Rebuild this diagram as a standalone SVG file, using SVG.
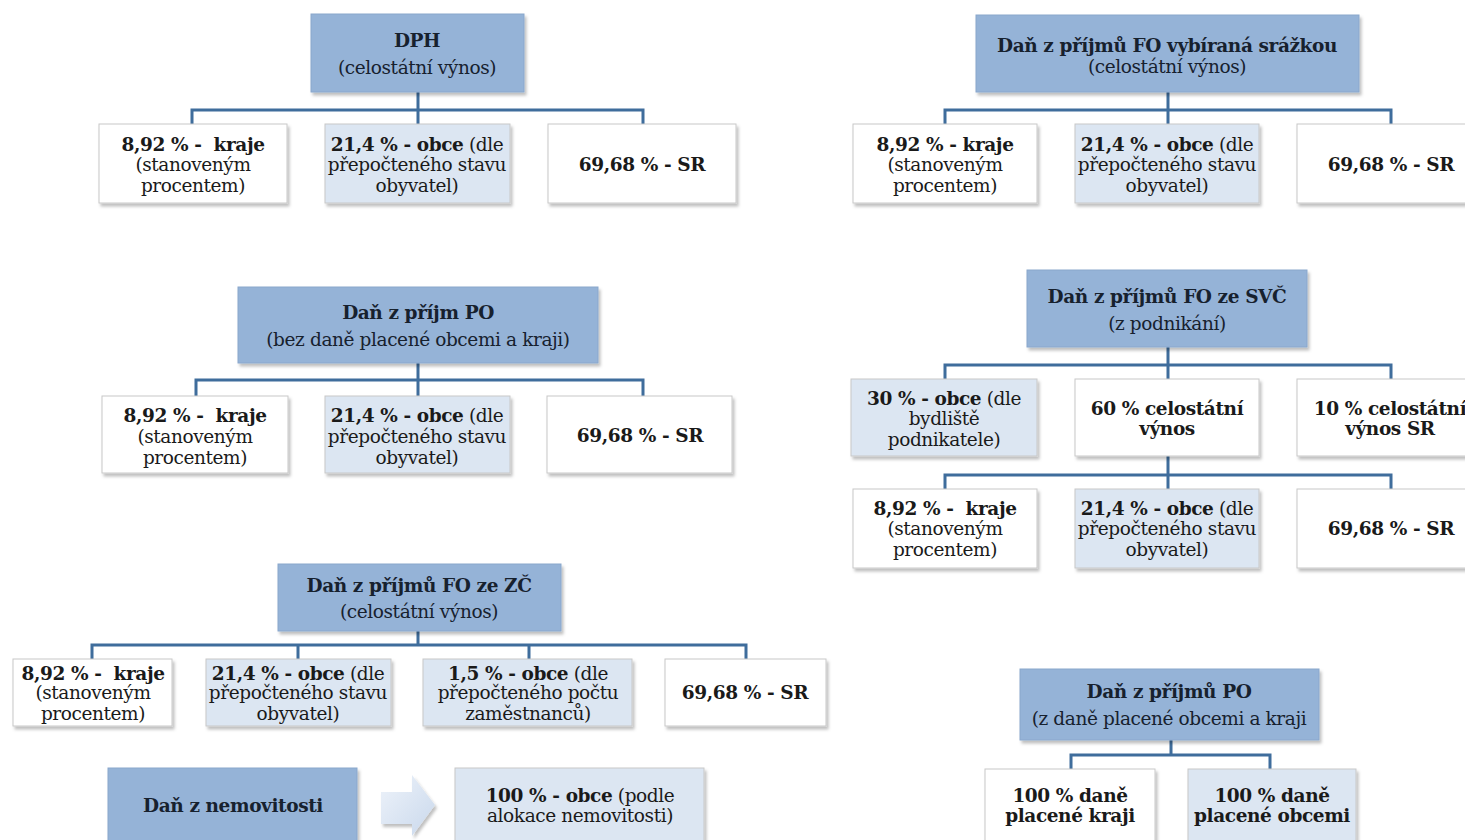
<svg xmlns="http://www.w3.org/2000/svg" width="1465" height="840" viewBox="0 0 1465 840">
<defs>
<filter id="sh" x="-10%" y="-10%" width="130%" height="140%">
<feDropShadow dx="2" dy="3" stdDeviation="1.5" flood-color="#000" flood-opacity="0.25"/>
</filter>
<linearGradient id="ag" x1="0" y1="0" x2="1" y2="1">
<stop offset="0" stop-color="#eef3fa"/>
<stop offset="1" stop-color="#c9d8ec"/>
</linearGradient>
</defs>
<style>
.hdr{fill:#95b3d7;stroke:#8aa7cc;stroke-width:1;filter:url(#sh)}
.w{fill:#ffffff;stroke:#c8c8c8;stroke-width:1;filter:url(#sh)}
.lb{fill:#dce6f2;stroke:#c8c8c8;stroke-width:1;filter:url(#sh)}
.c{fill:none;stroke:#3f6d9c;stroke-width:3}
text{font-family:"DejaVu Serif","Liberation Serif",serif;font-size:18.5px;fill:#1a1a1a;text-anchor:middle;dominant-baseline:central;letter-spacing:-0.4px}
.b{font-weight:bold}
.h{fill:#17212e}
</style>
<rect width="1465" height="840" fill="#ffffff"/>
<g id="connectors">
<path class="c" d="M418 92V110M192 124V110H643V124M418 110V124"/>
<path class="c" d="M1168 92V110M945 124V110H1391V124M1168 110V124"/>
<path class="c" d="M418 363V380M196 396V380H643V396M418 380V396"/>
<path class="c" d="M1168 347V365M945 379V365H1391V379M1168 365V379"/>
<path class="c" d="M1168 456V475M945 489V475H1391V489M1168 475V489"/>
<path class="c" d="M418 631V645M92 659V645H746V659M298 645V659M529 645V659"/>
<path class="c" d="M1171 740V755M1071 769V755H1270V769"/>
</g>
<g id="dph">
<rect class="hdr" x="311" y="14" width="213" height="78"/>
<text class="b h" x="417" y="40">DPH</text>
<text class="h" x="417" y="67">(celostátní výnos)</text>
</g>
<g id="dph-kraje">
<rect class="w" x="99" y="124" width="188" height="79"/>
<text x="193" y="144" class="b" xml:space="preserve">8,92 % -  kraje</text>
<text x="193" y="164">(stanoveným</text>
<text x="193" y="185">procentem)</text>
</g>
<g id="dph-obce">
<rect class="lb" x="325" y="124" width="185" height="79"/>
<text x="417" y="144"><tspan class="b">21,4 % - obce</tspan> (dle</text>
<text x="417" y="164">přepočteného stavu</text>
<text x="417" y="185">obyvatel)</text>
</g>
<g id="dph-sr">
<rect class="w" x="548" y="124" width="188" height="79"/>
<text class="b" x="642" y="164">69,68 % - SR</text>
</g>
<g id="srazka">
<rect class="hdr" x="976" y="15" width="383" height="77"/>
<text class="b h" x="1167" y="45">Daň z příjmů FO vybíraná srážkou</text>
<text class="h" x="1167" y="66">(celostátní výnos)</text>
</g>
<g id="srazka-kraje">
<rect class="w" x="853" y="124" width="184" height="79"/>
<text x="945" y="144" class="b">8,92 % - kraje</text>
<text x="945" y="164">(stanoveným</text>
<text x="945" y="185">procentem)</text>
</g>
<g id="srazka-obce">
<rect class="lb" x="1075" y="124" width="184" height="79"/>
<text x="1167" y="144"><tspan class="b">21,4 % - obce</tspan> (dle</text>
<text x="1167" y="164">přepočteného stavu</text>
<text x="1167" y="185">obyvatel)</text>
</g>
<g id="srazka-sr">
<rect class="w" x="1297" y="124" width="190" height="79"/>
<text class="b" x="1391" y="164">69,68 % - SR</text>
</g>
<g id="po">
<rect class="hdr" x="238" y="287" width="360" height="76"/>
<text class="b h" x="418" y="312">Daň z příjm PO</text>
<text class="h" x="418" y="339">(bez daně placené obcemi a kraji)</text>
</g>
<g id="po-kraje">
<rect class="w" x="102" y="396" width="186" height="77"/>
<text x="195" y="415" class="b" xml:space="preserve">8,92 % -  kraje</text>
<text x="195" y="436">(stanoveným</text>
<text x="195" y="457">procentem)</text>
</g>
<g id="po-obce">
<rect class="lb" x="325" y="396" width="185" height="77"/>
<text x="417" y="415"><tspan class="b">21,4 % - obce</tspan> (dle</text>
<text x="417" y="436">přepočteného stavu</text>
<text x="417" y="457">obyvatel)</text>
</g>
<g id="po-sr">
<rect class="w" x="547" y="396" width="185" height="77"/>
<text class="b" x="640" y="435">69,68 % - SR</text>
</g>
<g id="svc">
<rect class="hdr" x="1027" y="270" width="280" height="77"/>
<text class="b h" x="1167" y="296">Daň z příjmů FO ze SVČ</text>
<text class="h" x="1167" y="323">(z podnikání)</text>
</g>
<g id="svc-obce">
<rect class="lb" x="851" y="379" width="186" height="77"/>
<text x="944" y="398"><tspan class="b">30 % - obce</tspan> (dle</text>
<text x="944" y="418">bydliště</text>
<text x="944" y="439">podnikatele)</text>
</g>
<g id="svc-60">
<rect class="w" x="1075" y="379" width="184" height="77"/>
<text class="b" x="1167" y="408">60 % celostátní</text>
<text class="b" x="1167" y="428">výnos</text>
</g>
<g id="svc-10">
<rect class="w" x="1297" y="379" width="190" height="77"/>
<text class="b" x="1390" y="408">10 % celostátní</text>
<text class="b" x="1390" y="428">výnos SR</text>
</g>
<g id="svc-kraje">
<rect class="w" x="853" y="489" width="184" height="79"/>
<text x="945" y="508" class="b" xml:space="preserve">8,92 % -  kraje</text>
<text x="945" y="528">(stanoveným</text>
<text x="945" y="549">procentem)</text>
</g>
<g id="svc-obce2">
<rect class="lb" x="1075" y="489" width="184" height="79"/>
<text x="1167" y="508"><tspan class="b">21,4 % - obce</tspan> (dle</text>
<text x="1167" y="528">přepočteného stavu</text>
<text x="1167" y="549">obyvatel)</text>
</g>
<g id="svc-sr">
<rect class="w" x="1297" y="489" width="190" height="79"/>
<text class="b" x="1391" y="528">69,68 % - SR</text>
</g>
<g id="zc">
<rect class="hdr" x="278" y="564" width="283" height="67"/>
<text class="b h" x="419" y="585">Daň z příjmů FO ze ZČ</text>
<text class="h" x="419" y="611">(celostátní výnos)</text>
</g>
<g id="zc-kraje">
<rect class="w" x="13" y="659" width="159" height="67"/>
<text x="93" y="673" class="b" xml:space="preserve">8,92 % -  kraje</text>
<text x="93" y="692">(stanoveným</text>
<text x="93" y="713">procentem)</text>
</g>
<g id="zc-obce">
<rect class="lb" x="206" y="659" width="185" height="67"/>
<text x="298" y="673"><tspan class="b">21,4 % - obce</tspan> (dle</text>
<text x="298" y="692">přepočteného stavu</text>
<text x="298" y="713">obyvatel)</text>
</g>
<g id="zc-obce15">
<rect class="lb" x="423" y="659" width="209" height="67"/>
<text x="528" y="673"><tspan class="b">1,5 % - obce</tspan> (dle</text>
<text x="528" y="692">přepočteného počtu</text>
<text x="528" y="713">zaměstnanců)</text>
</g>
<g id="zc-sr">
<rect class="w" x="665" y="659" width="161" height="67"/>
<text class="b" x="745" y="692">69,68 % - SR</text>
</g>
<g id="nemovitost">
<rect class="hdr" x="108" y="768" width="249" height="80"/>
<text class="b h" x="233" y="805">Daň z nemovitosti</text>
</g>
<g id="arrow">
<path d="M381 792H412V775L435 805L412 836V824H381Z" fill="url(#ag)" stroke="none" filter="url(#sh)"/>
</g>
<g id="nemovitost-obce">
<rect class="lb" x="455" y="768" width="249" height="80"/>
<text x="580" y="795"><tspan class="b">100 % - obce</tspan> (podle</text>
<text x="580" y="815">alokace nemovitosti)</text>
</g>
<g id="po2">
<rect class="hdr" x="1020" y="669" width="299" height="71"/>
<text class="b h" x="1169" y="691">Daň z příjmů PO</text>
<text class="h" x="1169" y="718">(z daně placené obcemi a kraji</text>
</g>
<g id="po2-kraje">
<rect class="w" x="985" y="769" width="170" height="80"/>
<text class="b" x="1070" y="795">100 % daně</text>
<text class="b" x="1070" y="815">placené kraji</text>
</g>
<g id="po2-obce">
<rect class="lb" x="1188" y="769" width="168" height="80"/>
<text class="b" x="1272" y="795">100 % daně</text>
<text class="b" x="1272" y="815">placené obcemi</text>
</g>
</svg>
